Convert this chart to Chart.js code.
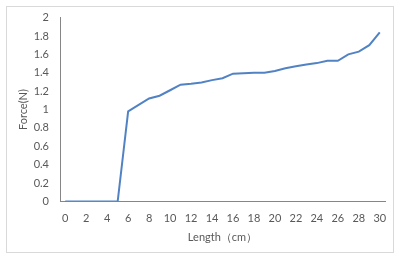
<!DOCTYPE html>
<html>
<head>
<meta charset="utf-8">
<script src="https://cdn.jsdelivr.net/npm/chart.js@4"></script>
<style>
html,body{margin:0;padding:0;background:#fff;}
#wrap{width:400px;height:259px;position:relative;}
</style>
</head>
<body>
<div id="wrap"><canvas id="c" width="400" height="259"></canvas></div>
<script>
const lengths = [0,1,2,3,4,5,6,7,8,9,10,11,12,13,14,15,16,17,18,19,20,21,22,23,24,25,26,27,28,29,30];
const forces = [0,0,0,0,0,0,0.98,1.05,1.12,1.15,1.21,1.27,1.28,1.295,1.32,1.34,1.39,1.395,1.40,1.40,1.42,1.45,1.47,1.49,1.505,1.53,1.53,1.60,1.63,1.70,1.84];
const yTicks = [0,0.2,0.4,0.6,0.8,1,1.2,1.4,1.6,1.8,2];
const xTitle = 'Length（cm）';
const yTitle = 'Force(N)';

const borderPlugin = {
  id: 'outerBorder',
  beforeDraw(chart) {
    const ctx = chart.ctx;
    ctx.save();
    ctx.fillStyle = '#ffffff';
    ctx.fillRect(0, 0, chart.width, chart.height);
    ctx.strokeStyle = '#d9d9d9';
    ctx.lineWidth = 1;
    ctx.strokeRect(6.5, 6.5, 387, 246);
    ctx.restore();
  }
};

const font = {family: 'Lato, "Open Sans", sans-serif', size: 11};
const gray = '#595959';

new Chart(document.getElementById('c'), {
  type: 'line',
  data: {
    labels: lengths.map(String),
    datasets: [{
      data: forces,
      borderColor: '#5183c4',
      borderWidth: 2,
      pointRadius: 0,
      tension: 0,
      fill: false
    }]
  },
  options: {
    responsive: false,
    animation: false,
    devicePixelRatio: 1,
    layout: {padding: {left: 0, right: 15, top: 17, bottom: 0}},
    plugins: {legend: {display: false}, tooltip: {enabled: false}},
    scales: {
      x: {
        type: 'category',
        offset: true,
        grid: {display: false, drawTicks: false},
        border: {display: true, color: '#868686', width: 1},
        ticks: {
          autoSkip: false,
          maxRotation: 0,
          color: gray,
          font: font,
          padding: 10,
          callback: function(v, i) { return i % 2 === 0 ? this.getLabelForValue(v) : ''; }
        },
        title: {display: true, text: xTitle, color: gray, font: font, padding: {top: 4, bottom: 15}},
        afterFit(scale) { scale.height = 57.5; }
      },
      y: {
        min: 0,
        max: 2,
        afterBuildTicks(scale) { scale.ticks = yTicks.map(v => ({value: v})); },
        grid: {display: false, drawTicks: false},
        border: {display: true, color: '#868686', width: 1},
        ticks: {
          color: gray,
          font: font,
          padding: 11,
          callback: v => String(+v.toFixed(1))
        },
        title: {display: true, text: yTitle, color: gray, font: font, padding: {top: 17, bottom: 0}},
        afterFit(scale) { scale.width = 60; }
      }
    }
  },
  plugins: [borderPlugin]
});
</script>
</body>
</html>
